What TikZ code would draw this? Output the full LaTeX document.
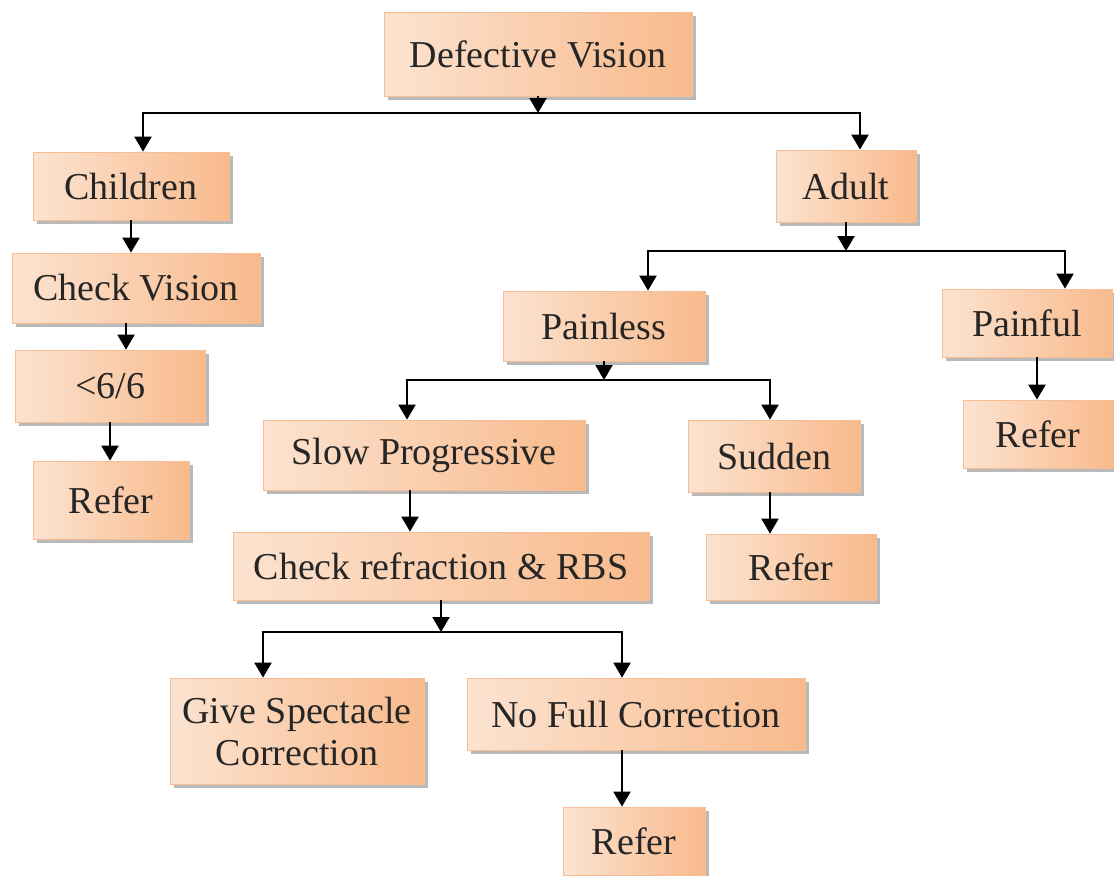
\documentclass[tikz,border=0pt]{standalone}
\usepackage{fontspec}
\setmainfont{Liberation Serif}
\usetikzlibrary{arrows.meta,shadows}

\definecolor{boxlight}{HTML}{FCE3D0}
\definecolor{boxdark}{HTML}{F8BA8C}
\definecolor{boxedge}{HTML}{F6BE95}

\begin{document}
\begin{tikzpicture}[x=0.5pt,y=-0.5pt,
  box/.style={draw=boxedge,line width=0.4pt,left color=boxlight,right color=boxdark,
    drop shadow={shadow xshift=2pt,shadow yshift=-2pt,fill=black!50,opacity=.55},
    minimum height=34pt,align=center,text=black!85,
    font=\fontsize{19}{21}\selectfont},
  arr/.style={-{Triangle[length=7.5pt,width=8.5pt]},line width=1.1pt,black}]
\useasboundingbox (0,0) rectangle (1114,875);
\fill[white] (0,0) rectangle (1114,875);
% boxes
\node[box,minimum width=154pt,minimum height=42pt] (dv) at (538,54) {Defective Vision};
\node[box,minimum width=98pt] (ch) at (131,186) {Children};
\node[box,minimum width=124pt,minimum height=35pt] (cv) at (136,288) {Check Vision};
\node[box,minimum width=95pt,minimum height=36pt] (lt) at (110,386) {<6/6};
\node[box,minimum width=78pt,minimum height=39pt] (rfa) at (111,500) {Refer};
\node[box,minimum width=70pt,minimum height=36pt] (ad) at (846,186) {Adult};
\node[box,minimum width=101pt,minimum height=35pt] (pl) at (604,326) {Painless};
\node[box,minimum width=85pt] (pf) at (1027,323) {Painful};
\node[box,minimum width=75pt] (rfb) at (1038,434) {Refer};
\node[box,minimum width=161pt,minimum height=35pt] (sp) at (424,455) {Slow Progressive};
\node[box,minimum width=86pt,minimum height=36pt] (sd) at (774,456) {Sudden};
\node[box,minimum width=85pt,minimum height=33pt] (rfc) at (791,567) {Refer};
\node[box,minimum width=208pt] (cr) at (441,566) {Check refraction \& RBS};
\node[box,minimum width=127pt,minimum height=53pt] (gs) at (297,731) {Give Spectacle\\Correction};
\node[box,minimum width=169pt,minimum height=36pt] (nf) at (636,714) {No Full Correction};
\node[box,minimum width=71pt] (rfd) at (634,841) {Refer};
% junctions
\coordinate (ja) at (538,113);
\coordinate (jb) at (846,251);
\coordinate (jc) at (604,380);
\coordinate (jd) at (441,632);
% arrows
\draw[arr] (dv.south) -- (ja);
\draw[arr] (ja) -| ([xshift=6pt]ch.north);
\draw[arr] (ja) -| ([xshift=7pt]ad.north);
\draw[arr] (ch.south) -- (ch.south |- cv.north);
\draw[arr] ([xshift=-5pt]cv.south) -- ([xshift=-5pt]cv.south |- lt.north);
\draw[arr] (lt.south) -- (lt.south |- rfa.north);
\draw[arr] (ad.south) -- (jb);
\draw[arr] (jb) -| ([xshift=22pt]pl.north);
\draw[arr] (jb) -| ([xshift=19pt]pf.north);
\draw[arr] ([xshift=5pt]pf.south) -- ([xshift=5pt]pf.south |- rfb.north);
\draw[arr] (pl.south) -- (jc);
\draw[arr] (jc) -| ([xshift=-8.5pt]sp.north);
\draw[arr] (jc) -| ([xshift=-2pt]sd.north);
\draw[arr] ([xshift=-7pt]sp.south) -- ([xshift=-7pt]sp.south |- cr.north);
\draw[arr] ([xshift=-2pt]sd.south) -- ([xshift=-2pt]sd.south |- rfc.north);
\draw[arr] (cr.south) -- (jd);
\draw[arr] (jd) -| ([xshift=-17pt]gs.north);
\draw[arr] (jd) -| ([xshift=-7pt]nf.north);
\draw[arr] ([xshift=-7pt]nf.south) -- ([xshift=-7pt]nf.south |- rfd.north);
\end{tikzpicture}
\end{document}
